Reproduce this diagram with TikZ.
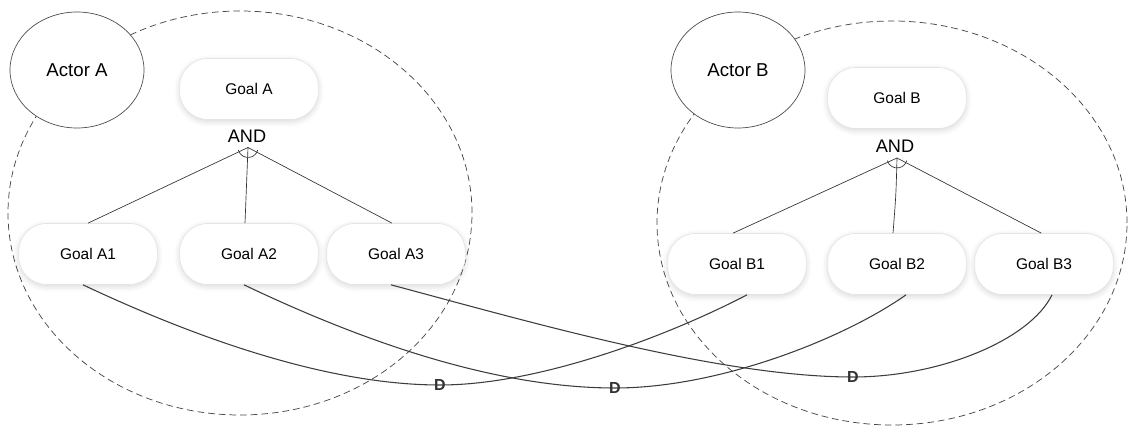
\documentclass[tikz,border=0pt]{standalone}
\usepackage{fontspec}
\setmainfont{Liberation Sans}
\usetikzlibrary{shapes.geometric,shadows.blur}
\definecolor{ink}{HTML}{333333}
\definecolor{rim}{HTML}{E4E4E4}
\begin{document}
\begin{tikzpicture}[x=0.75pt,y=-0.75pt,
  boundary/.style={ellipse, draw=ink!90, dash pattern=on 5pt off 3pt, line width=0.55pt, inner sep=0pt},
  actor/.style={ellipse, draw=ink!90, fill=white, line width=0.5pt, minimum width=100.5pt, minimum height=87pt, inner sep=0pt, font=\fontsize{14}{16}\selectfont},
  goal/.style={rectangle, rounded corners=21pt, draw=rim, line width=0.5pt, fill=white, minimum width=104pt, minimum height=45.75pt, inner sep=0pt, font=\fontsize{11.6}{13}\selectfont,
    blur shadow={shadow xshift=0pt, shadow yshift=-1.5pt, shadow blur radius=4pt, shadow opacity=16}},
  andlabel/.style={anchor=base, inner sep=0pt, font=\fontsize{13.6}{15}\selectfont},
  link/.style={draw=ink, line width=0.5pt},
  dep/.style={draw=ink!95, line width=0.8pt},
  dlabel/.style={inner sep=0pt, text=ink, font=\bfseries\fontsize{12}{14}\selectfont}
]
\useasboundingbox (0,0) rectangle (1128,427);

% actor boundaries
\node[boundary, minimum width=348pt, minimum height=303pt] (bndA) at (240,213) {};
\node[boundary, minimum width=352.5pt, minimum height=303pt] (bndB) at (892,223) {};

% actors
\node[actor] (actA) at (77,70) {Actor A};
\node[actor] (actB) at (738,70) {Actor B};

% goals of actor A
\node[goal] (gA)  at (249,89)  {Goal A};
\node[goal] (gA1) at (88,254)  {Goal A1};
\node[goal] (gA2) at (249,254) {Goal A2};
\node[goal] (gA3) at (396,254) {Goal A3};

% goals of actor B
\node[goal] (gB)  at (897,98)  {Goal B};
\node[goal] (gB1) at (737,264) {Goal B1};
\node[goal] (gB2) at (897,264) {Goal B2};
\node[goal] (gB3) at (1044,264) {Goal B3};

% AND decompositions
\coordinate (jA) at (248,147.5);
\node[andlabel] (andA) at (247,143) {AND};
\draw[link] (jA) -- (gA1.north);
\draw[link] (jA) .. controls (247,185) .. ([xshift=-3pt]gA2.north);
\draw[link] (jA) -- ([xshift=-3pt]gA3.north);
\draw[link] (jA) ++(-7.24pt,-1.94pt) arc[start angle=195, end angle=345, radius=7.5pt];

\coordinate (jB) at (897,158);
\node[andlabel] (andB) at (895,152.5) {AND};
\draw[link] (jB) -- ([xshift=-3pt]gB1.north);
\draw[link] (jB) .. controls (896,195) .. ([xshift=-3pt]gB2.north);
\draw[link] (jB) -- ([xshift=-2pt]gB3.north);
\draw[link] (jB) ++(-7.24pt,-1.94pt) arc[start angle=195, end angle=345, radius=7.5pt];

% dependencies between the actors
\draw[dep] ([xshift=-3.75pt]gA1.south) .. controls (200,340) and (330,385) .. (440,385)
  node[dlabel] (d1) {D}
  .. controls (540,385) and (670,335) .. ([xshift=7.5pt]gB1.south);
\draw[dep] ([xshift=-3.75pt]gA2.south) .. controls (370,345) and (500,388) .. (615,388)
  node[dlabel] (d2) {D}
  .. controls (720,388) and (845,338) .. ([xshift=6.75pt]gB2.south);
\draw[dep] ([xshift=-3.75pt]gA3.south) .. controls (530,322) and (720,377) .. (853,377)
  node[dlabel] (d3) {D}
  .. controls (940,377) and (1030,340) .. ([xshift=6pt]gB3.south);
\end{tikzpicture}
\end{document}
